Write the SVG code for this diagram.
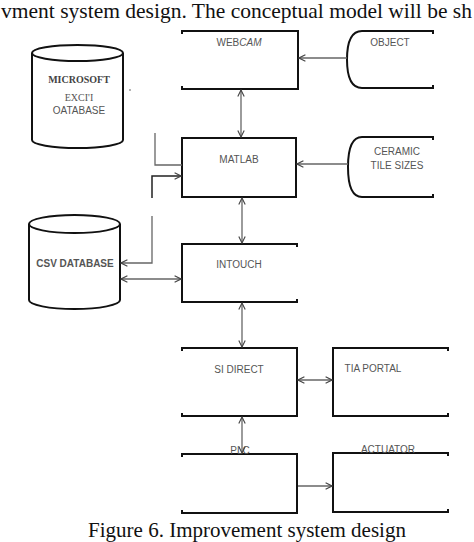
<svg xmlns="http://www.w3.org/2000/svg" width="474" height="542" viewBox="0 0 474 542">
<defs>
<style>
.box{fill:none;stroke:#111;stroke-width:2}
.lbl{font-family:"Liberation Sans",Arial,sans-serif;font-size:10px;fill:#555;text-anchor:middle}
.cap{font-family:"Liberation Serif","Times New Roman",serif;font-size:21px;fill:#111}
.con{fill:none;stroke:#666;stroke-width:1.3}
.conb{fill:none;stroke:#222;stroke-width:1.5}
</style>
<marker id="ah" viewBox="0 0 10 10" refX="9" refY="5" markerWidth="8" markerHeight="8" orient="auto-start-reverse" markerUnits="userSpaceOnUse">
<path d="M1,1 L9,5 L1,9" fill="none" stroke="#444" stroke-width="1.4"/>
</marker>
</defs>
<rect width="474" height="542" fill="#fff"/>
<text class="cap" x="1" y="18" textLength="471" lengthAdjust="spacingAndGlyphs">vment system design. The conceptual model will be sh</text>
<text class="cap" x="247" y="537" text-anchor="middle">Figure 6. Improvement system design</text>

<g id="excel-db">
<path class="box" d="M32,53 L32,140 A45.5,8 0 0 0 123,140 L123,53"/>
<ellipse class="box" cx="77.5" cy="53" rx="45.5" ry="8"/>
<text x="79" y="83" font-family="Liberation Serif,serif" font-size="10" font-weight="bold" fill="#444" text-anchor="middle">MICROSOFT</text>
<text x="79" y="101" font-family="Liberation Serif,serif" font-size="10" fill="#555" text-anchor="middle">EXCI'I</text>
<text class="lbl" x="79" y="114">OATABASE</text>
<circle cx="130" cy="90" r="0.8" fill="#555"/>
</g>

<g id="csv-db">
<path class="box" d="M29,224 L29,300 A45.5,9 0 0 0 120,300 L120,224"/>
<ellipse class="box" cx="74.5" cy="224" rx="45.5" ry="9"/>
<text class="lbl" x="75" y="267" font-weight="bold" fill="#444">CSV DATABASE</text>
</g>

<g id="webcam">
<path class="box" d="M182,34 L182,31 L298,31 L298,89 L182,89 L182,86"/>
<text class="lbl" x="239" y="46">WEB<tspan font-style="italic">CAM</tspan></text>
</g>

<g id="object">
<path class="box" d="M433,34 L433,31 L362,31 Q347,31 347,59.5 Q347,88 362,88 L433,88 L433,85"/>
<text class="lbl" x="390" y="46">OBJECT</text>
</g>

<g id="matlab">
<rect class="box" x="182" y="138" width="114" height="59"/>
<text class="lbl" x="239" y="163" fill="#333">MATLAB</text>
</g>

<g id="ceramic">
<path class="box" d="M433,140 L433,137 L362,137 Q348,137 348,167 Q348,197 362,197 L433,197 L433,194"/>
<text class="lbl" x="397" y="155">CERAMIC</text>
<text class="lbl" x="397" y="169">TILE SIZES</text>
</g>

<g id="intouch">
<path class="box" d="M297,247 L297,244 L182,244 L182,302 L297,302 L297,299"/>
<text class="lbl" x="239" y="268" fill="#333">INTOUCH</text>
</g>

<g id="si-direct">
<path class="box" d="M182,351 L182,348 L297,348 L297,416 L182,416 L182,413"/>
<text class="lbl" x="239" y="373" fill="#333">SI DIRECT</text>
</g>

<g id="tia-portal">
<path class="box" d="M448,351 L448,348 L333,348 L333,416 L448,416 L448,413"/>
<text class="lbl" x="373" y="372" fill="#444">TIA PORTAL</text>
</g>

<g id="plc">
<path class="box" d="M182,457 L182,454 L297,454 L297,513 L182,513 L182,510"/>
<text class="lbl" x="240" y="454" fill="#777">PLC</text>
</g>

<g id="actuator">
<path class="box" d="M448,456 L448,453 L333,453 L333,512 L448,512 L448,509"/>
<text class="lbl" x="388" y="453" fill="#777">ACTUATOR</text>
</g>

<g id="connectors">
<line class="con" x1="347" y1="58" x2="299" y2="58" marker-end="url(#ah)"/>
<line class="con" x1="348" y1="164" x2="297" y2="164" marker-end="url(#ah)"/>
<line class="con" x1="241" y1="90" x2="241" y2="137" marker-start="url(#ah)" marker-end="url(#ah)"/>
<line class="con" x1="242" y1="198" x2="242" y2="243" marker-start="url(#ah)" marker-end="url(#ah)"/>
<line class="con" x1="242" y1="303" x2="242" y2="347" marker-start="url(#ah)" marker-end="url(#ah)"/>
<line class="con" x1="242" y1="417" x2="242" y2="453" marker-start="url(#ah)" marker-end="url(#ah)"/>
<line class="con" x1="298" y1="380" x2="332" y2="380" marker-start="url(#ah)" marker-end="url(#ah)"/>
<line class="con" x1="298" y1="486" x2="332" y2="486" marker-end="url(#ah)"/>
<polyline class="con" points="155,133 155,165 182,165"/>
<polyline class="conb" points="152,198 152,176 181,176" marker-end="url(#ah)"/>
<polyline class="con" points="152,216 152,263 121,263" marker-end="url(#ah)"/>
<line class="con" x1="121" y1="279" x2="181" y2="279" marker-start="url(#ah)" marker-end="url(#ah)"/>
</g>
</svg>
